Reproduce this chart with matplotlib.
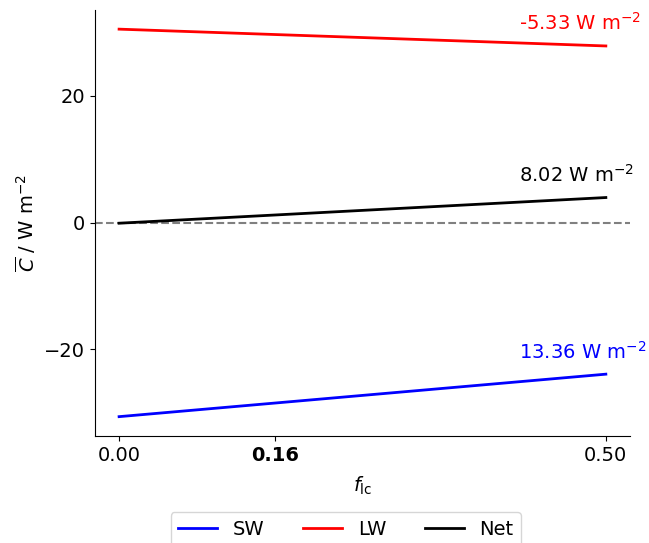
import matplotlib
matplotlib.use('Agg')
import matplotlib.pyplot as plt

# cloud effect vs f_lc, endpoints
f_lc = [0.0, 0.5]
sw = [-30.6, -23.9]
lw = [30.5, 27.85]
net = [-0.1, 3.95]
slopes = {'SW': 13.36, 'LW': -5.33, 'Net': 8.02}
xticks = [0.0, 0.16, 0.5]
xtick_labels = ['0.00', '0.16', '0.50']

plt.rcParams['font.size'] = 14

fig = plt.figure(figsize=(6.49, 5.43), dpi=100)
ax = fig.add_axes([0.146, 0.197, 0.825, 0.785])

ax.axhline(0, color='gray', linestyle='--', linewidth=1.5)
ax.plot(f_lc, sw, color='blue', linewidth=2, label='SW')
ax.plot(f_lc, lw, color='red', linewidth=2, label='LW')
ax.plot(f_lc, net, color='black', linewidth=2, label='Net')

# slope annotations above the line ends
for name, ys, col in [('SW', sw, 'blue'), ('LW', lw, 'red'), ('Net', net, 'black')]:
    ax.text(0.411, ys[-1] + 2.5, f"{slopes[name]:.2f} W m$^{{-2}}$", color=col,
            ha='left', va='baseline', fontsize=14)

ax.set_xticks(xticks)
ax.set_xticklabels(xtick_labels)
ax.get_xticklabels()[1].set_fontweight('bold')
ax.set_yticks([-20, 0, 20])
ax.set_xlabel(r'$f_{\rm lc}$', labelpad=7)
ax.set_ylabel(r'$\overline{C}$ / W m$^{-2}$')
ax.spines['top'].set_visible(False)
ax.spines['right'].set_visible(False)

fig.legend(loc='upper center', bbox_to_anchor=(0.533, 0.075), ncol=3, fontsize=14)

fig.savefig('out.png', dpi=100)
